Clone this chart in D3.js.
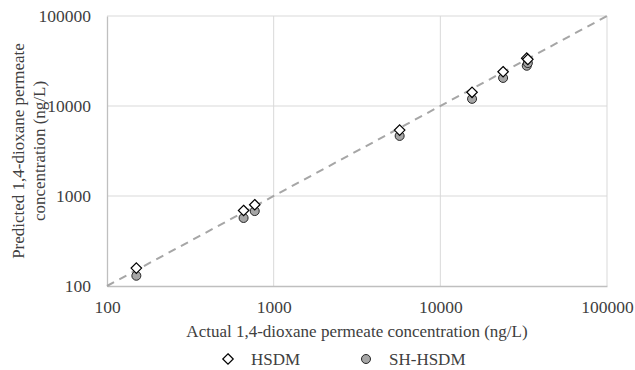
<!DOCTYPE html>
<html>
<head>
<meta charset="utf-8">
<script src="https://cdn.jsdelivr.net/npm/d3@7"></script>
<style>
  body { margin: 0; background: #fff; }
  text { font-family: "Liberation Serif", "Times New Roman", serif; fill: #404040; }
</style>
</head>
<body>
<svg id="chart" width="635" height="370"></svg>
<script>
// actual permeate concentration (ng/L)
const actual = [150, 660, 770, 5700, 15500, 23800, 33000, 33500];
// predicted by HSDM
const hsdm = [158, 690, 800, 5400, 14200, 24000, 34000, 33000];
// predicted by SH-HSDM
const shHsdm = [130, 570, 680, 4650, 12000, 20500, 28000, 30000];
const tickValues = [100, 1000, 10000, 100000];

const svg = d3.select('#chart'),
  margin = {top: 16, right: 28, bottom: 84, left: 107},
  width = 635 - margin.left - margin.right,
  height = 370 - margin.top - margin.bottom,
  g = svg.append('g').attr('transform', 'translate(' + margin.left + ',' + margin.top + ')');

const x = d3.scaleLog().domain([100, 100000]).range([0, width]);
const y = d3.scaleLog().domain([100, 100000]).range([height, 0]);

// gridlines
g.append('g')
  .selectAll('line.gy')
  .data(tickValues.slice(1))
  .enter().append('line')
  .attr('x1', 0).attr('x2', width)
  .attr('y1', d => y(d)).attr('y2', d => y(d))
  .attr('stroke', '#d9d9d9').attr('stroke-width', 1);

g.append('g')
  .selectAll('line.gx')
  .data(tickValues.slice(1))
  .enter().append('line')
  .attr('y1', 0).attr('y2', height)
  .attr('x1', d => x(d)).attr('x2', d => x(d))
  .attr('stroke', '#d9d9d9').attr('stroke-width', 1);

// axes
const xAxis = g.append('g')
  .attr('transform', 'translate(0,' + height + ')')
  .call(d3.axisBottom(x).tickValues(tickValues).tickFormat(d3.format('d')).tickSize(0).tickPadding(15));
const yAxis = g.append('g')
  .call(d3.axisLeft(y).tickValues(tickValues).tickFormat(d3.format('d')).tickSize(0).tickPadding(16));

[xAxis, yAxis].forEach(function (a) {
  a.select('.domain').attr('stroke', '#bfbfbf').attr('stroke-width', 1.3);
  a.selectAll('text')
    .style('font-family', '"Liberation Serif", serif')
    .style('font-size', '17.5px')
    .attr('fill', '#404040');
});

// 1:1 line
g.append('line')
  .attr('x1', x(100)).attr('y1', y(100))
  .attr('x2', x(100000)).attr('y2', y(100000))
  .attr('stroke', '#a6a6a6')
  .attr('stroke-width', 2)
  .attr('stroke-dasharray', '8,6');

const diamond = d3.symbol().type(d3.symbolDiamond2).size(70);

// SH-HSDM points
g.selectAll('.sh')
  .data(actual)
  .enter().append('circle')
  .attr('class', 'sh')
  .attr('cx', d => x(d))
  .attr('cy', (d, i) => y(shHsdm[i]))
  .attr('r', 4.5)
  .attr('fill', '#a6a6a6')
  .attr('stroke', '#262626')
  .attr('stroke-width', 1);

// HSDM points
g.selectAll('.hsdm')
  .data(actual)
  .enter().append('path')
  .attr('class', 'hsdm')
  .attr('d', diamond)
  .attr('transform', (d, i) => 'translate(' + x(d) + ',' + y(hsdm[i]) + ')')
  .attr('fill', '#fff')
  .attr('stroke', '#000')
  .attr('stroke-width', 1.2);

// axis titles
svg.append('text')
  .attr('x', margin.left + width / 2)
  .attr('y', 337)
  .attr('text-anchor', 'middle')
  .style('font-size', '17px')
  .text('Actual 1,4-dioxane permeate concentration (ng/L)');

const yt = svg.append('text')
  .attr('transform', 'translate(24,' + (margin.top + height / 2) + ') rotate(-90)')
  .attr('text-anchor', 'middle')
  .style('font-size', '17px');
yt.append('tspan').attr('x', 0).attr('dy', 0).text('Predicted 1,4-dioxane permeate');
yt.append('tspan').attr('x', 0).attr('dy', 21).text('concentration (ng/L)');

// legend
const legend = svg.append('g').attr('transform', 'translate(0,359)');
legend.append('path')
  .attr('d', diamond)
  .attr('transform', 'translate(228,0)')
  .attr('fill', '#fff').attr('stroke', '#000').attr('stroke-width', 1.2);
legend.append('text').attr('x', 251).attr('y', 6).style('font-size', '17px').text('HSDM');
legend.append('circle')
  .attr('cx', 366).attr('cy', 0).attr('r', 4.5)
  .attr('fill', '#a6a6a6').attr('stroke', '#262626');
legend.append('text').attr('x', 389).attr('y', 6).style('font-size', '17px').text('SH-HSDM');
</script>
</body>
</html>
